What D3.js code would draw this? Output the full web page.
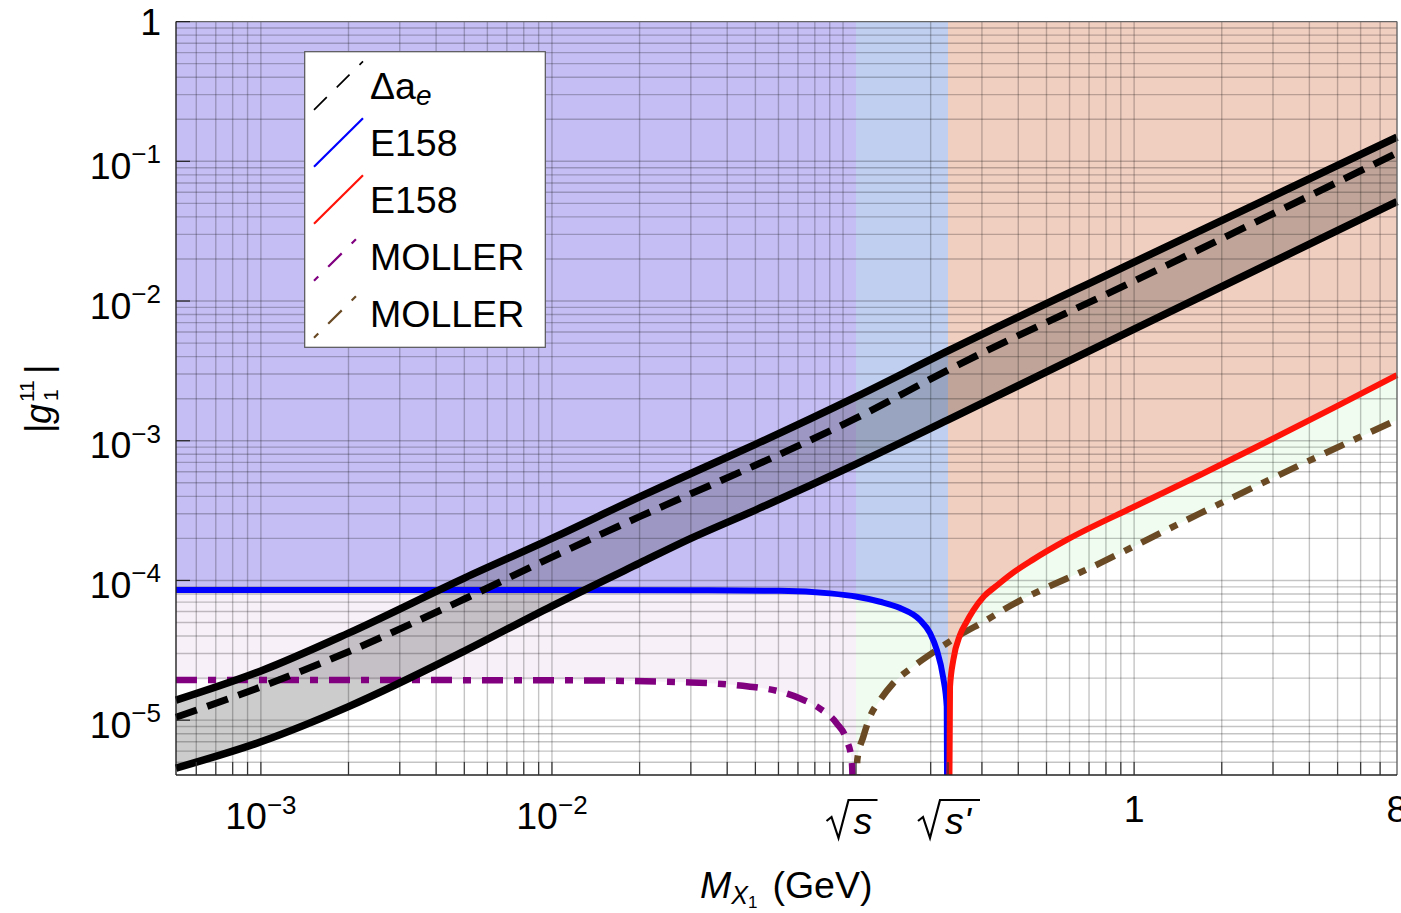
<!DOCTYPE html>
<html><head><meta charset="utf-8">
<script src="https://cdn.jsdelivr.net/npm/d3@7"></script>
<style>
body{margin:0;background:#fff}
svg{display:block}
text{font-family:"Liberation Sans",Arial,Helvetica,sans-serif;fill:#000}
</style>
</head><body>
<svg id="c" width="1401" height="913"></svg>
<script>
// ---------- data ----------
const xDomain = [0.000511, 8];
const yDomain = [4.05e-6, 1];
const sqrtS = 0.1108, sqrtSp = 0.2294;

const bandMass   = [0.000511,0.001,0.002,0.005,0.01,0.02,0.03,0.05,0.1108,0.2294,1,8];
const aeUpper    = [1.39e-5,2.25e-5,4.20e-5,1.04e-4,2.0e-4,3.97e-4,5.83e-4,9.42e-4,2.06e-3,4.39e-3,0.019,0.149];
const aeCentral  = [1.05e-5,1.73e-5,3.09e-5,7.36e-5,1.47e-4,2.86e-4,4.17e-4,6.67e-4,1.45e-3,3.21e-3,0.0139,0.1146];
const aeLower    = [4.54e-6,7.0e-6,1.25e-5,3.12e-5,6.56e-5,1.33e-4,2.0e-4,3.19e-4,6.81e-4,1.41e-3,6.30e-3,0.0514];

const e158BlueMass = [0.000511,0.01,0.03,0.0607,0.0902,0.1117,0.1340,0.1569,0.1838,0.1990,0.2099,0.2206,0.2271,0.2294];
const e158BlueG    = [8.54e-5,8.54e-5,8.50e-5,8.44e-5,8.08e-5,7.64e-5,7.04e-5,6.34e-5,5.21e-5,4.20e-5,3.18e-5,2.04e-5,1.25e-5,1e-7];

const e158RedMass = [0.2294,0.2331,0.2392,0.2522,0.2650,0.2802,0.3050,0.3353,0.3800,0.4494,0.5865,1,1.684,2.855,4.824,8];
const e158RedG    = [1e-7,1.73e-5,2.69e-5,4.07e-5,5.0e-5,6.1e-5,7.7e-5,9.1e-5,1.12e-4,1.41e-4,1.95e-4,3.37e-4,5.68e-4,9.84e-4,1.71e-3,2.95e-3];

const mollerPurpleMass = [0.000511,0.01,0.03,0.0443,0.0607,0.0712,0.0833,0.0951,0.1029,0.1071,0.1108];
const mollerPurpleG    = [1.94e-5,1.93e-5,1.86e-5,1.77e-5,1.60e-5,1.43e-5,1.21e-5,9.49e-6,7.20e-6,5.18e-6,1e-7];

const mollerBrownMass = [0.1108,0.1119,0.1174,0.1238,0.1340,0.1485,0.1739,0.2099,0.2522,0.3115,0.3544,0.7634,1.684,3.715,8];
const mollerBrownG    = [1e-7,5.18e-6,7.61e-6,1.06e-5,1.39e-5,1.83e-5,2.41e-5,3.18e-5,4.07e-5,5.21e-5,6.14e-5,1.33e-4,3.02e-4,6.70e-4,1.41e-3];

const yTickExp = [0,-1,-2,-3,-4,-5];
const xTickLabels = [
  {v:0.001, t:"10", s:"\u22123"},
  {v:0.01, t:"10", s:"\u22122"},
  {v:1, t:"1"},
  {v:8, t:"8"}
];
const legendItems = [
  {label:"\u0394a", sub:"e", color:"#000", dash:"18,14"},
  {label:"E158", color:"#0000ff", dash:null},
  {label:"E158", color:"#ff1208", dash:null},
  {label:"MOLLER", color:"#800080", dash:"6,14,19,14"},
  {label:"MOLLER", color:"#6a4a25", dash:"6,14,19,14"}
];

// ---------- layout ----------
const L=176, R=1397, T=21.6, B=775;
const svg = d3.select("#c");
const x = d3.scaleLog().domain(xDomain).range([L,R]);
const y = d3.scaleLog().domain(yDomain).range([B,T]);
const zip = (ms,gs)=>ms.map((m,i)=>({m, g:gs[i]}));

const defs = svg.append("defs");
defs.append("clipPath").attr("id","plot").append("rect").attr("x",L).attr("y",T).attr("width",R-L).attr("height",B-T);
defs.append("clipPath").attr("id","lines").append("rect").attr("x",L-4).attr("y",T).attr("width",R-L+6).attr("height",B-T);
defs.append("clipPath").attr("id","left").append("rect").attr("x",L).attr("y",T).attr("width",x(sqrtS)-L).attr("height",B-T);
defs.append("clipPath").attr("id","mid").append("rect").attr("x",x(sqrtS)).attr("y",T).attr("width",x(sqrtSp)-x(sqrtS)).attr("height",B-T);

const above = d3.area().x(d=>x(d.m)).y0(T).y1(d=>y(d.g)).curve(d3.curveMonotoneX);
const line = d3.line().x(d=>x(d.m)).y(d=>y(d.g)).curve(d3.curveMonotoneX);

const fills = svg.append("g").attr("clip-path","url(#plot)");
const blue = zip(e158BlueMass,e158BlueG);
fills.append("path").attr("d",above(zip(mollerBrownMass,mollerBrownG))).attr("fill","#effcef");
fills.append("path").attr("d",above(zip(mollerPurpleMass,mollerPurpleG))).attr("fill","#f7f0f8");
fills.append("path").attr("d",above(blue)).attr("fill","#c5bef4").attr("clip-path","url(#left)");
fills.append("path").attr("d",above(blue)).attr("fill","#c0cff0").attr("clip-path","url(#mid)");
fills.append("path").attr("d",above(zip(e158RedMass,e158RedG))).attr("fill","#f0cec0");

// ---------- grid ----------
const grid = svg.append("g");
const gx=[], gy=[];
for(let e=-4;e<=0;e++) for(let k=1;k<=9;k++){const v=k*Math.pow(10,e); if(v>xDomain[0]*1.001 && v<8) gx.push(v);}
for(let e=-6;e<=0;e++) for(let k=1;k<=9;k++){const v=k*Math.pow(10,e); if(v>yDomain[0]*1.001 && v<0.999) gy.push(v);}
grid.selectAll("line.gx").data(gx).enter().append("line")
  .attr("x1",d=>x(d)).attr("x2",d=>x(d)).attr("y1",T).attr("y2",B)
  .attr("stroke","rgba(0,0,0,0.23)").attr("stroke-width",1.4);
grid.selectAll("line.gy").data(gy).enter().append("line")
  .attr("y1",d=>y(d)).attr("y2",d=>y(d)).attr("x1",L).attr("x2",R)
  .attr("stroke","rgba(0,0,0,0.23)").attr("stroke-width",1.4);

// ---------- band ----------
const band = bandMass.map((m,i)=>({m, lo:aeLower[i], hi:aeUpper[i]}));
svg.append("path").attr("clip-path","url(#plot)")
  .attr("d", d3.area().x(d=>x(d.m)).y0(d=>y(d.lo)).y1(d=>y(d.hi)).curve(d3.curveMonotoneX)(band))
  .attr("fill","rgba(0,0,0,0.2)");

// ---------- curves ----------
const cg = svg.append("g").attr("clip-path","url(#lines)").attr("fill","none");
cg.append("path").attr("d",line(zip(mollerPurpleMass,mollerPurpleG))).attr("stroke","#800080").attr("stroke-width",6.5).attr("stroke-dasharray","21,11,8,11");
cg.append("path").attr("d",line(zip(mollerBrownMass,mollerBrownG))).attr("stroke","#6a4a25").attr("stroke-width",6.5).attr("stroke-dasharray","21,11,8,11");
cg.append("path").attr("d",line(blue)).attr("stroke","#0000ff").attr("stroke-width",6);
cg.append("path").attr("d",line(zip(e158RedMass,e158RedG))).attr("stroke","#ff1208").attr("stroke-width",6);
cg.append("path").attr("d",line(zip(bandMass,aeUpper))).attr("stroke","#000").attr("stroke-width",7.5);
cg.append("path").attr("d",line(zip(bandMass,aeLower))).attr("stroke","#000").attr("stroke-width",7.5);
cg.append("path").attr("d",line(zip(bandMass,aeCentral))).attr("stroke","#000").attr("stroke-width",7).attr("stroke-dasharray","22,11");

// ---------- frame & ticks ----------
const fr = svg.append("g");
fr.append("line").attr("x1",L).attr("x2",R).attr("y1",T).attr("y2",T).attr("stroke","#666").attr("stroke-width",1.4);
fr.append("line").attr("x1",R).attr("x2",R).attr("y1",T).attr("y2",B).attr("stroke","#666").attr("stroke-width",1.4);
fr.append("line").attr("x1",L).attr("x2",L).attr("y1",T).attr("y2",B).attr("stroke","#222").attr("stroke-width",1.4);
fr.append("line").attr("x1",L).attr("x2",R).attr("y1",B).attr("y2",B).attr("stroke","#222").attr("stroke-width",1.4);
const xt = gx.concat([sqrtS, sqrtSp]);
fr.selectAll("line.xt").data(xt).enter().append("line")
  .attr("x1",d=>x(d)).attr("x2",d=>x(d)).attr("y1",B).attr("y2",B-13)
  .attr("stroke","#333").attr("stroke-width",1.2);
fr.selectAll("line.yt").data(yTickExp).enter().append("line")
  .attr("x1",L).attr("x2",L+14).attr("y1",d=>y(Math.pow(10,d))).attr("y2",d=>y(Math.pow(10,d)))
  .attr("stroke","#222").attr("stroke-width",1.2);

// y tick labels
const FS=37.5, SFS=26;
yTickExp.forEach(e=>{
  const yy = y(Math.pow(10,e));
  if(e===0){
    svg.append("text").attr("x",161).attr("y",yy+13.4).attr("text-anchor","end").attr("font-size",FS).text("1");
  } else {
    const t = svg.append("text").attr("x",161).attr("y",yy+17.5).attr("text-anchor","end").attr("font-size",FS);
    t.append("tspan").text("10");
    t.append("tspan").attr("font-size",SFS).attr("dy",-15.5).text("\u2212"+(-e));
  }
});
// x tick labels
xTickLabels.forEach(d=>{
  const t = svg.append("text").attr("x",x(d.v)).attr("text-anchor","middle").attr("font-size",FS);
  if(d.s){
    t.attr("y",829.3);
    t.append("tspan").text(d.t);
    t.append("tspan").attr("font-size",SFS).attr("dy",-15.5).text(d.s);
  } else {
    t.attr("y",822).text(d.t);
  }
});
// radical labels
function radical(cx, txt, w){
  const x0 = cx - w/2;
  svg.append("path").attr("d",`M${x0},${821} L${x0+5},${817} L${x0+12},${838} L${x0+22},${800} L${x0+w},${800}`)
    .attr("fill","none").attr("stroke","#000").attr("stroke-width",2.2).attr("stroke-linejoin","miter");
  svg.append("text").attr("x",x0+27).attr("y",834).attr("font-size",FS).attr("font-style","italic").text(txt);
}
radical(x(sqrtS)-4, "s", 51);
radical(x(sqrtSp)+1, "s'", 62);

// axis titles
const xt2 = svg.append("text").attr("x",700).attr("y",898).attr("font-size",FS);
xt2.append("tspan").attr("font-style","italic").text("M");
xt2.append("tspan").attr("font-style","italic").attr("font-size",25).attr("dy",6).text("X");
xt2.append("tspan").attr("font-size",17).attr("dy",4).text("1");
xt2.append("tspan").attr("dy",-10).attr("dx",15).text("(GeV)");

const yg = svg.append("g").attr("transform","translate(50.5,398) rotate(-90)");
yg.append("text").attr("x",-35).attr("y",0).attr("font-size",36).text("|");
yg.append("text").attr("x",-26).attr("y",0).attr("font-size",36).attr("font-style","italic").text("g");
yg.append("text").attr("x",-3).attr("y",7.5).attr("font-size",21).text("1");
yg.append("text").attr("x",-4).attr("y",-17).attr("font-size",21).text("11");
yg.append("text").attr("x",24).attr("y",0).attr("font-size",36).text("|");

// ---------- legend ----------
const lg = svg.append("g");
lg.append("rect").attr("x",304.7).attr("y",51.7).attr("width",240.6).attr("height",295.6)
  .attr("fill","#fff").attr("stroke","#555").attr("stroke-width",1.2);
legendItems.forEach((d,i)=>{
  const b = 99.3 + i*57;
  lg.append("line").attr("x1",314).attr("y1",b+10.5).attr("x2",363).attr("y2",b-38)
    .attr("stroke",d.color).attr("stroke-width",d.color==="#000"?1.7:2.2)
    .attr("stroke-dasharray",d.dash);
  const t = lg.append("text").attr("x",370).attr("y",b).attr("font-size",FS);
  t.append("tspan").text(d.label);
  if(d.sub) t.append("tspan").attr("font-size",28).attr("font-style","italic").attr("dy",5.5).text(d.sub);
});
</script>
</body></html>
